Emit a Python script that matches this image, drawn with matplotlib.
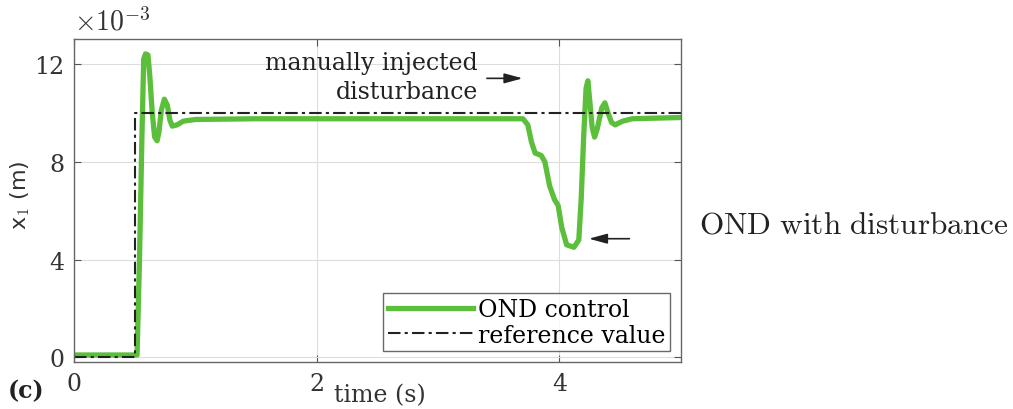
import matplotlib
matplotlib.use("Agg")
import matplotlib.pyplot as plt

# ---- data (x1 in units of 1e-3 m) ----
t_ond = [0.0, 0.52, 0.54, 0.56, 0.575, 0.59, 0.61, 0.625, 0.645, 0.665, 0.685, 0.70,
         0.72, 0.745, 0.77, 0.79, 0.81, 0.85, 0.9, 1.0, 1.5, 2.0, 2.5, 3.0, 3.5,
         3.70, 3.74, 3.77, 3.80, 3.85, 3.88, 3.92, 3.96, 3.99, 4.02, 4.06, 4.12,
         4.16, 4.18, 4.20, 4.22, 4.235, 4.25, 4.27, 4.29, 4.31, 4.35, 4.375, 4.40,
         4.43, 4.46, 4.52, 4.6, 5.0]
x_ond = [0.1, 0.1, 4.0, 9.0, 12.2, 12.4, 12.35, 11.5, 10.0, 9.0, 8.85, 9.2,
         10.1, 10.55, 10.3, 9.7, 9.45, 9.5, 9.65, 9.72, 9.75, 9.75, 9.75, 9.75, 9.75,
         9.75, 9.5, 8.8, 8.35, 8.25, 8.0, 7.0, 6.45, 6.2, 5.3, 4.6, 4.5,
         4.8, 6.5, 9.0, 11.0, 11.3, 10.5, 9.4, 9.0, 9.3, 10.2, 10.4, 10.0,
         9.6, 9.5, 9.65, 9.75, 9.8]
t_ref = [0.0, 0.5, 0.5, 5.0]
x_ref = [0.0, 0.0, 10.0, 10.0]

xticks = [0, 2, 4]
yticks = [0, 4, 8, 12]

serif = ["DejaVu Serif"]
plt.rcParams["mathtext.fontset"] = "cm"

fig = plt.figure(figsize=(10.13, 4.10), dpi=100)
ax = fig.add_axes([0.073, 0.115, 0.599, 0.787])

green = "#5cbf3c"
ax.plot(t_ond, x_ond, color=green, lw=3.8, label="OND control", solid_joinstyle="round")
ax.plot(t_ref, x_ref, color="#222222", lw=1.5, ls=(0, (6, 2, 1.5, 2)), label="reference value")

ax.set_xlim(0, 5)
ax.set_ylim(-0.18, 13)
ax.set_xticks(xticks)
ax.set_yticks(yticks)
ax.set_xticklabels([str(v) for v in xticks], family=serif, fontsize=17, color="#333333")
ax.set_yticklabels([str(v) for v in yticks], family=serif, fontsize=17, color="#333333")
ax.grid(True, color="#dddddd", lw=0.8)
ax.tick_params(direction="in", length=5, top=True, right=True, color="#555555", pad=7)
for s in ax.spines.values():
    s.set_color("#666666")
    s.set_linewidth(1.0)

ax.text(0.0, 1.01, r"$\times10^{-3}$", transform=ax.transAxes, fontsize=20,
        color="#333333", ha="left", va="bottom")

fig.text(0.02, 0.525, r"x$_1$ (m)", family="DejaVu Sans", fontsize=16,
         color="#333333", rotation=90, ha="center", va="center")
fig.text(0.33, 0.008, "time (s)", family=serif, fontsize=17, color="#333333",
         ha="left", va="bottom")
fig.text(0.008, 0.045, "(c)", family=serif, fontsize=17, color="#222222",
         ha="left", va="center", fontweight="bold")

ax.text(3.33, 11.45, "manually injected\ndisturbance", family="DejaVu Serif",
        fontsize=17, ha="right", va="center", color="#222222", linespacing=1.3)
ax.annotate("", xy=(3.72, 11.4), xytext=(3.38, 11.4),
            arrowprops=dict(arrowstyle="-|>,head_length=1.1,head_width=0.3",
                            color="#222222", lw=1.2))
ax.annotate("", xy=(4.22, 4.85), xytext=(4.6, 4.85),
            arrowprops=dict(arrowstyle="-|>,head_length=1.1,head_width=0.3",
                            color="#222222", lw=1.2))

leg = ax.legend(loc="lower right", prop={"family": serif, "size": 17},
                frameon=True, fancybox=False, edgecolor="#444444",
                handlelength=3.6, handletextpad=0.2, borderpad=0.2,
                labelspacing=0.1, borderaxespad=0.45)
leg.get_frame().set_linewidth(1.0)

fig.text(0.69, 0.45, r"$\mathrm{OND\ with\ disturbance}$", fontsize=22.5,
         color="#222222", ha="left", va="center")

fig.savefig("out.png", dpi=100)
